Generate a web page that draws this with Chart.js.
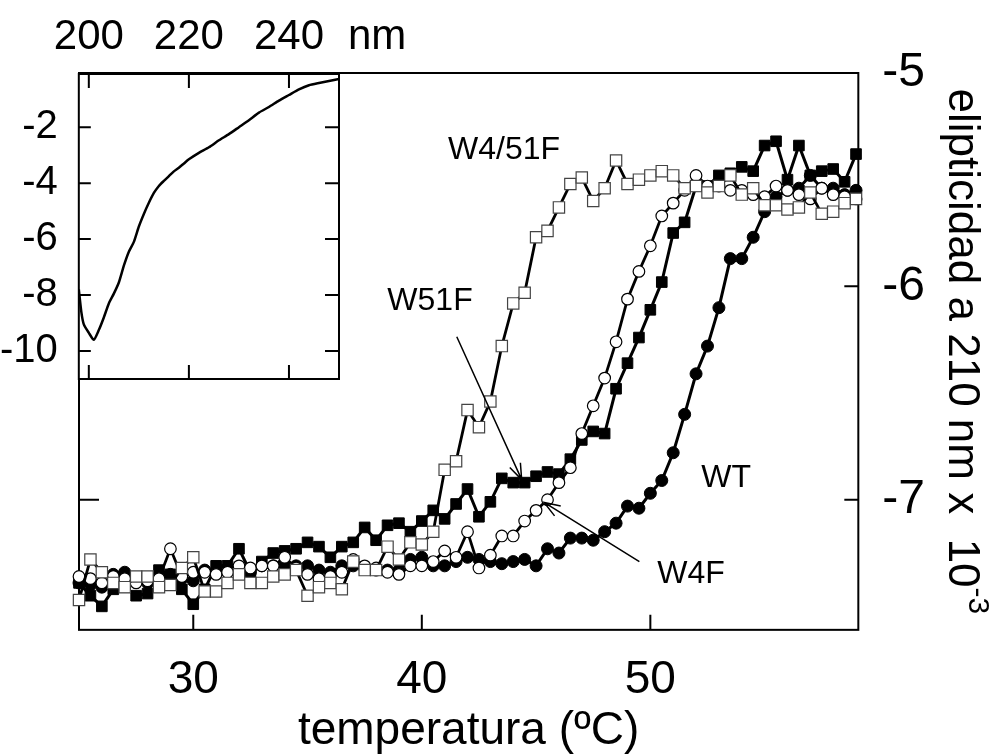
<!DOCTYPE html>
<html>
<head>
<meta charset="utf-8">
<script src="https://cdn.jsdelivr.net/npm/chart.js@4"></script>
<style>
body{margin:0;background:#fff;overflow:hidden}
#main{position:absolute;left:0;top:0}
#inset{position:absolute;left:-21px;top:0}
</style>
</head>
<body>
<canvas id="main" width="1005" height="756"></canvas>
<canvas id="inset" width="430" height="424"></canvas>
<script>
const FONT = 'Liberation Sans, Arial, sans-serif'
Chart.defaults.font.family = FONT
Chart.defaults.color = '#000'

// temperatura (ºC)
const temps = [25,25.5,26,26.5,27,27.5,28,28.5,29,29.5,30,30.5,31,31.5,32,32.5,33,33.5,34,34.5,
  35,35.5,36,36.5,37,37.5,38,38.5,39,39.5,40,40.5,41,41.5,42,42.5,43,43.5,44,44.5,
  45,45.5,46,46.5,47,47.5,48,48.5,49,49.5,50,50.5,51,51.5,52,52.5,53,53.5,54,54.5,
  55,55.5,56,56.5,57,57.5,58,58.5,59]

// elipticidad a 210 nm (x 10^-3)
const w4_51f = [-7.47,-7.28,-7.34,-7.39,-7.41,-7.36,-7.36,-7.41,-7.40,-7.32,
  -7.27,-7.43,-7.43,-7.39,-7.35,-7.39,-7.39,-7.36,-7.35,-7.33,
  -7.45,-7.41,-7.39,-7.42,-7.29,-7.33,-7.33,-7.22,-7.28,-7.20,
  -7.21,-7.15,-6.86,-6.82,-6.58,-6.66,-6.54,-6.28,-6.08,-6.03,
  -5.77,-5.74,-5.63,-5.52,-5.49,-5.60,-5.54,-5.41,-5.52,-5.50,
  -5.48,-5.46,-5.48,-5.54,-5.53,-5.56,-5.53,-5.48,-5.57,-5.54,
  -5.62,-5.62,-5.64,-5.63,-5.56,-5.66,-5.65,-5.61,-5.59]
const w4f = [-7.36,-7.37,-7.39,-7.36,-7.37,-7.39,-7.38,-7.37,-7.23,-7.36,
  -7.34,-7.34,-7.35,-7.34,-7.31,-7.32,-7.31,-7.31,-7.27,-7.32,
  -7.35,-7.37,-7.36,-7.34,-7.28,-7.31,-7.32,-7.34,-7.35,-7.31,
  -7.31,-7.29,-7.24,-7.27,-7.15,-7.32,-7.26,-7.17,-7.17,-7.10,
  -7.05,-7.00,-6.92,-6.85,-6.69,-6.56,-6.43,-6.26,-6.06,-5.93,
  -5.81,-5.67,-5.61,-5.55,-5.48,-5.53,-5.53,-5.55,-5.55,-5.57,
  -5.58,-5.53,-5.55,-5.57,-5.59,-5.54,-5.57,-5.58,-5.59]
const w51f = [-7.39,-7.45,-7.50,-7.42,-7.41,-7.45,-7.44,-7.33,-7.35,-7.42,
  -7.49,-7.42,-7.31,-7.31,-7.23,-7.34,-7.29,-7.25,-7.24,-7.23,
  -7.20,-7.22,-7.27,-7.22,-7.20,-7.13,-7.19,-7.12,-7.11,-7.15,
  -7.10,-7.05,-7.09,-7.02,-6.95,-7.08,-7.01,-6.90,-6.92,-6.92,
  -6.89,-6.87,-6.88,-6.81,-6.72,-6.68,-6.69,-6.48,-6.36,-6.24,
  -6.11,-5.98,-5.75,-5.70,-5.53,-5.53,-5.48,-5.47,-5.44,-5.46,
  -5.34,-5.32,-5.50,-5.34,-5.48,-5.46,-5.45,-5.51,-5.38]
const wt = [-7.39,-7.40,-7.41,-7.35,-7.34,-7.38,-7.39,-7.36,-7.35,-7.37,
  -7.38,-7.33,-7.34,-7.32,-7.32,-7.34,-7.31,-7.31,-7.31,-7.31,
  -7.31,-7.33,-7.34,-7.31,-7.31,-7.32,-7.33,-7.33,-7.33,-7.28,
  -7.27,-7.31,-7.31,-7.29,-7.27,-7.28,-7.29,-7.30,-7.29,-7.28,
  -7.31,-7.23,-7.25,-7.18,-7.18,-7.19,-7.15,-7.11,-7.03,-7.04,
  -6.97,-6.91,-6.78,-6.60,-6.41,-6.28,-6.10,-5.87,-5.87,-5.77,
  -5.65,-5.58,-5.55,-5.54,-5.48,-5.54,-5.54,-5.57,-5.55]

const xTicks = [30, 40, 50]
const yTicks = [-7, -6, -5]

// inset: CD spectrum
const nm = [198,198.5,199,200,201,202,203,204,205,206,207,208,209,210,211,212,213,214,215,216,
  217,218,219,220,222,224,226,228,230,232,234,236,238,240,242,244,246,248,250]
const cd = [-7.8,-8.6,-9.05,-9.35,-9.6,-9.25,-8.8,-8.3,-7.95,-7.55,-6.95,-6.45,-6.1,-5.55,-5.1,-4.7,-4.35,-4.1,-3.92,-3.75,
  -3.58,-3.45,-3.3,-3.15,-2.92,-2.72,-2.47,-2.25,-2.0,-1.75,-1.48,-1.28,-1.05,-0.85,-0.65,-0.5,-0.42,-0.35,-0.28]
const nmTicks = [200, 220, 240]
const cdTicks = [-10, -8, -6, -4, -2]

// labels and arrows (data coords)
const notes = [
  {text: 'W4/51F', x: 43.6, y: -5.36},
  {text: 'W51F', x: 40.36, y: -6.07},
  {text: 'WT', x: 53.32, y: -6.90},
  {text: 'W4F', x: 51.78, y: -7.35}
]
const arrows = [
  {from: [41.53, -6.236], to: [44.37, -6.906]},
  {from: [49.52, -7.29], to: [45.35, -7.013]}
]

function pts(xs, ys){ return xs.map((v,i) => ({x: v, y: ys[i]})) }

const mainPlugin = {
  id: 'mainDecor',
  beforeDatasetsDraw(chart){
    const {ctx, chartArea: a, scales: {x, y}} = chart
    ctx.save()
    ctx.strokeStyle = '#000'
    ctx.lineWidth = 2
    ctx.strokeRect(a.left, a.top, a.right - a.left, a.bottom - a.top)
    ctx.beginPath()
    xTicks.forEach(v => {
      const px = x.getPixelForValue(v)
      ctx.moveTo(px, a.bottom); ctx.lineTo(px, a.bottom - 15)
    })
    yTicks.forEach(v => {
      const py = y.getPixelForValue(v)
      ctx.moveTo(a.right, py); ctx.lineTo(a.right - 14, py)
      ctx.moveTo(a.left, py); ctx.lineTo(a.left + 20, py)
    })
    ctx.stroke()
    ctx.restore()
  },
  afterDatasetsDraw(chart){
    const {ctx, scales: {x, y}} = chart
    ctx.save()
    ctx.fillStyle = '#000'
    ctx.font = '32px ' + FONT
    ctx.textAlign = 'center'
    ctx.textBaseline = 'middle'
    notes.forEach(n => ctx.fillText(n.text, x.getPixelForValue(n.x), y.getPixelForValue(n.y)))
    ctx.strokeStyle = '#000'
    ctx.lineWidth = 1.5
    arrows.forEach(ar => {
      const x0 = x.getPixelForValue(ar.from[0]), y0 = y.getPixelForValue(ar.from[1])
      const x1 = x.getPixelForValue(ar.to[0]), y1 = y.getPixelForValue(ar.to[1])
      const ang = Math.atan2(y1 - y0, x1 - x0)
      ctx.beginPath()
      ctx.moveTo(x0, y0); ctx.lineTo(x1, y1)
      ctx.moveTo(x1 - 17 * Math.cos(ang - 0.35), y1 - 17 * Math.sin(ang - 0.35))
      ctx.lineTo(x1, y1)
      ctx.lineTo(x1 - 17 * Math.cos(ang + 0.35), y1 - 17 * Math.sin(ang + 0.35))
      ctx.stroke()
    })
    ctx.restore()
  },
  afterDraw(chart){
    // right axis title, rotated, with superscript
    const {ctx, chartArea: a} = chart
    const main = 'elipticidad a 210 nm x  10'
    const sup = '-3'
    ctx.save()
    ctx.fillStyle = '#000'
    ctx.font = '44px ' + FONT
    const w1 = ctx.measureText(main).width
    ctx.font = '30px ' + FONT
    const w2 = ctx.measureText(sup).width
    const start = (a.top + a.bottom) / 2 - (w1 + w2) / 2
    ctx.translate(949, start)
    ctx.rotate(Math.PI / 2)
    ctx.textBaseline = 'alphabetic'
    ctx.textAlign = 'left'
    ctx.font = '44px ' + FONT
    ctx.fillText(main, 0, 0)
    ctx.font = '30px ' + FONT
    ctx.fillText(sup, w1, -20)
    ctx.restore()
  }
}

new Chart(document.getElementById('main'), {
  type: 'line',
  data: {
    datasets: [
      {label: 'W4/51F', data: pts(temps, w4_51f), borderColor: '#000', borderWidth: 2.8,
        pointStyle: 'rect', pointRadius: 8, pointBackgroundColor: '#fff', pointBorderColor: '#444', pointBorderWidth: 1.2},
      {label: 'W4F', data: pts(temps, w4f), borderColor: '#000', borderWidth: 2.8,
        pointStyle: 'circle', pointRadius: 5.8, pointBackgroundColor: '#fff', pointBorderColor: '#000', pointBorderWidth: 1.2},
      {label: 'W51F', data: pts(temps, w51f), borderColor: '#000', borderWidth: 3,
        pointStyle: 'rect', pointRadius: 7.5, pointBackgroundColor: '#000', pointBorderColor: '#000', pointBorderWidth: 1},
      {label: 'WT', data: pts(temps, wt), borderColor: '#000', borderWidth: 3,
        pointStyle: 'circle', pointRadius: 6, pointBackgroundColor: '#000', pointBorderColor: '#000', pointBorderWidth: 1}
    ]
  },
  options: {
    responsive: false,
    animation: false,
    clip: false,
    layout: {padding: {left: 79, top: 73, right: 56, bottom: 1}},
    plugins: {legend: {display: false}, tooltip: {enabled: false}},
    scales: {
      x: {
        type: 'linear', min: 25, max: 59.1,
        afterBuildTicks: s => { s.ticks = xTicks.map(v => ({value: v})) },
        grid: {display: false, drawTicks: false},
        border: {display: false},
        ticks: {font: {size: 46, lineHeight: 1.26}, padding: 21, maxRotation: 0},
        title: {display: true, text: 'temperatura (ºC)', font: {size: 46, lineHeight: 1.2}, padding: {top: -26, bottom: -4}}
      },
      y: {
        position: 'right', min: -7.61, max: -5,
        afterBuildTicks: s => { s.ticks = yTicks.map(v => ({value: v})) },
        grid: {display: false, drawTicks: false},
        border: {display: false},
        ticks: {font: {size: 48}, padding: 24}
      }
    }
  },
  plugins: [mainPlugin]
})

const insetPlugin = {
  id: 'insetDecor',
  beforeDraw(chart){
    const {ctx, chartArea: a} = chart
    ctx.save()
    ctx.fillStyle = '#fff'
    ctx.fillRect(a.left, a.top, a.right - a.left, a.bottom - a.top)
    ctx.restore()
  },
  afterDatasetsDraw(chart){
    const {ctx, chartArea: a, scales: {x, y}} = chart
    ctx.save()
    ctx.strokeStyle = '#000'
    ctx.lineWidth = 2
    ctx.strokeRect(a.left, a.top, a.right - a.left, a.bottom - a.top)
    ctx.beginPath()
    nmTicks.forEach(v => {
      const px = x.getPixelForValue(v)
      ctx.moveTo(px, a.top); ctx.lineTo(px, a.top + 14)
      ctx.moveTo(px, a.bottom); ctx.lineTo(px, a.bottom - 14)
    })
    cdTicks.forEach(v => {
      const py = y.getPixelForValue(v)
      ctx.moveTo(a.left, py); ctx.lineTo(a.left + 12, py)
      ctx.moveTo(a.right, py); ctx.lineTo(a.right - 14, py)
    })
    ctx.stroke()
    ctx.fillStyle = '#000'
    ctx.font = '42px ' + FONT
    ctx.textAlign = 'left'
    ctx.textBaseline = 'middle'
    ctx.fillText('nm', x.getPixelForValue(240) + 59, a.top - 37)
    ctx.restore()
  }
}

new Chart(document.getElementById('inset'), {
  type: 'line',
  data: {
    datasets: [{data: pts(nm, cd), borderColor: '#000', borderWidth: 2.5, pointRadius: 0, tension: 0.2}]
  },
  options: {
    responsive: false,
    animation: false,
    layout: {padding: {left: 0, top: 0, right: 70, bottom: 3}},
    plugins: {legend: {display: false}, tooltip: {enabled: false}},
    scales: {
      x: {
        type: 'linear', position: 'top', min: 198, max: 250,
        afterBuildTicks: s => { s.ticks = nmTicks.map(v => ({value: v})) },
        grid: {display: false, drawTicks: false},
        border: {display: false},
        ticks: {font: {size: 42, lineHeight: 1.0}, padding: 16, maxRotation: 0}
      },
      y: {
        min: -11, max: -0.1,
        afterBuildTicks: s => { s.ticks = cdTicks.map(v => ({value: v})) },
        grid: {display: false, drawTicks: false},
        border: {display: false},
        ticks: {font: {size: 40}, padding: 21}
      }
    }
  },
  plugins: [insetPlugin]
})
</script>
</body>
</html>
